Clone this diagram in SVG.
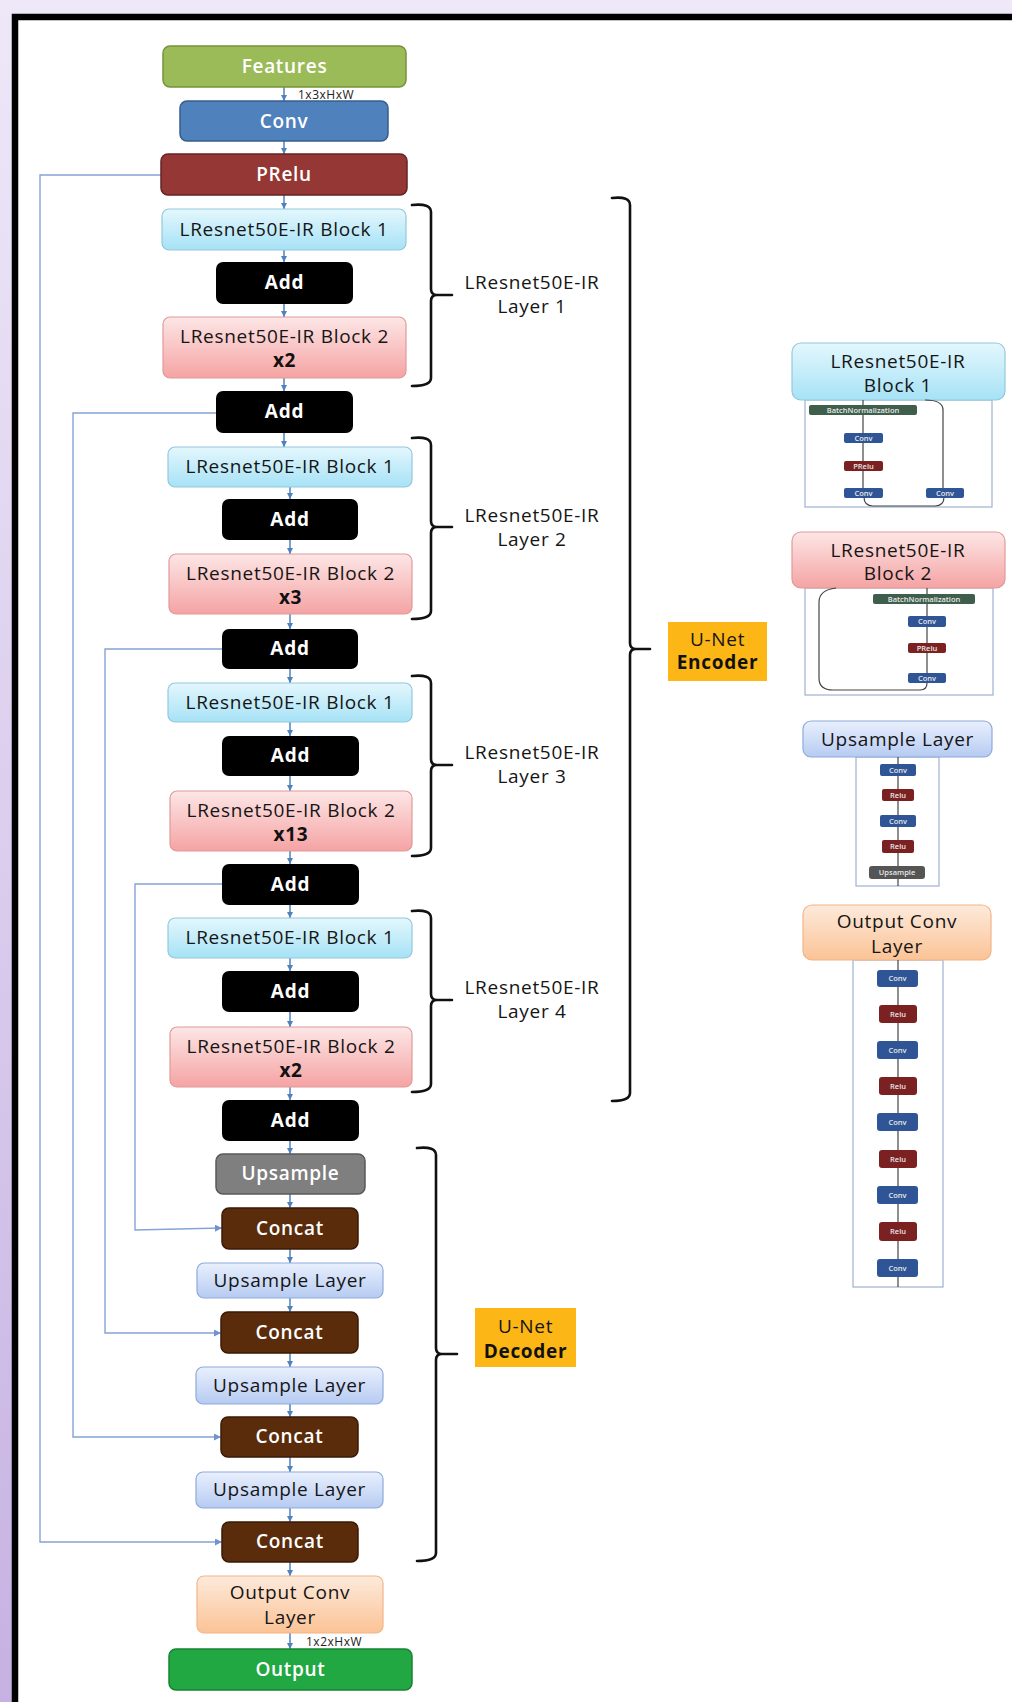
<svg xmlns="http://www.w3.org/2000/svg" width="1012" height="1702" viewBox="0 0 1012 1702">
<defs>
<linearGradient id="gBg" x1="0" y1="0" x2="0" y2="1"><stop offset="0" stop-color="#eee8f8"/><stop offset="1" stop-color="#c6b2e2"/></linearGradient>
<linearGradient id="gB1" x1="0" y1="0" x2="0" y2="1"><stop offset="0" stop-color="#e4f7fd"/><stop offset="1" stop-color="#a6e2f6"/></linearGradient>
<linearGradient id="gB2" x1="0" y1="0" x2="0" y2="1"><stop offset="0" stop-color="#fde6e6"/><stop offset="1" stop-color="#f5a3a3"/></linearGradient>
<linearGradient id="gUL" x1="0" y1="0" x2="0" y2="1"><stop offset="0" stop-color="#e9f0fd"/><stop offset="1" stop-color="#b6cbf2"/></linearGradient>
<linearGradient id="gOC" x1="0" y1="0" x2="0" y2="1"><stop offset="0" stop-color="#fdeadb"/><stop offset="1" stop-color="#fbc396"/></linearGradient>
<marker id="ah" viewBox="0 0 10 10" refX="10" refY="5" markerUnits="userSpaceOnUse" markerWidth="6" markerHeight="6" orient="auto"><path d="M0,0 L10,5 L0,10 z" fill="#4f81bd"/></marker>
<marker id="as" viewBox="0 0 10 10" refX="10" refY="5" markerUnits="userSpaceOnUse" markerWidth="7" markerHeight="7" orient="auto"><path d="M0,0 L10,5 L0,10 z" fill="#6f93cf"/></marker>
<style>
text{font-family:"Open Sans","Liberation Sans",sans-serif;text-anchor:middle}
.t{font-size:19px;letter-spacing:0.7px}
.w{fill:#fff;font-weight:600}
.wb{fill:#fff;font-weight:700}
.k{fill:#151515}
.kb{fill:#111;font-weight:700}
.sm{font-size:12px;letter-spacing:0.5px;fill:#222;text-anchor:start}
.b1{fill:url(#gB1);stroke:#93c8dc;stroke-width:1.2}
.b2{fill:url(#gB2);stroke:#df9a9a;stroke-width:1.2}
.add{fill:#000}
.cc{fill:#5a2c0b;stroke:#3a1a05;stroke-width:1.5}
.ul{fill:url(#gUL);stroke:#8eaadb;stroke-width:1.2}
.oc{fill:url(#gOC);stroke:#f2b58a;stroke-width:1.2}
.ar{stroke:#4f81bd;stroke-width:1.5;fill:none;marker-end:url(#ah)}
.sk{stroke:#86a3d6;stroke-width:1.4;fill:none}
.br{stroke:#111;stroke-width:2.6;fill:none;stroke-linecap:round}
.lab{fill:#fcb716}
.pn{fill:#fff;stroke:#a6b8d4;stroke-width:1.3}
.gl{stroke:#444;stroke-width:1.2;fill:none}
.sBN{fill:#3f5f4c}
.sCv{fill:#2f5597}
.sRe{fill:#7b2121}
.sUp{fill:#555}
.st{font-size:7.5px;fill:#e8e8e8;font-weight:600}
</style>
</defs>

<rect x="0" y="0" width="1012" height="1702" fill="url(#gBg)"/>
<rect x="15" y="17" width="997" height="1685" fill="#fff"/>
<path d="M15,1702 V17 H1012" stroke="#000" stroke-width="6.5" fill="none"/>

<g id="connectors">
<path class="ar" d="M284,87 V101"/>
<path class="ar" d="M284,141 V154"/>
<path class="ar" d="M284,195 V209"/>
<path class="ar" d="M284,250 V262"/>
<path class="ar" d="M284,304 V317"/>
<path class="ar" d="M284,378 V391"/>
<path class="ar" d="M284,433 V447"/>
<path class="ar" d="M290,487 V499"/>
<path class="ar" d="M290,540 V554"/>
<path class="ar" d="M290,614 V629"/>
<path class="ar" d="M290,669 V683"/>
<path class="ar" d="M290,722 V736"/>
<path class="ar" d="M290,776 V791"/>
<path class="ar" d="M290,851 V864"/>
<path class="ar" d="M290,905 V918"/>
<path class="ar" d="M290,958 V971"/>
<path class="ar" d="M290,1012 V1027"/>
<path class="ar" d="M290,1087 V1100"/>
<path class="ar" d="M290,1141 V1154"/>
<path class="ar" d="M290,1194 V1208"/>
<path class="ar" d="M290,1249 V1263"/>
<path class="ar" d="M290,1298 V1312"/>
<path class="ar" d="M290,1353 V1367"/>
<path class="ar" d="M290,1404 V1417"/>
<path class="ar" d="M290,1457 V1472"/>
<path class="ar" d="M290,1508 V1522"/>
<path class="ar" d="M290,1562 V1576"/>
<path class="ar" d="M290,1633 V1649"/>
<path class="sk" marker-end="url(#as)" d="M161,175 H40 V1542 H222"/>
<path class="sk" marker-end="url(#as)" d="M216,413 H73 V1437 H221"/>
<path class="sk" marker-end="url(#as)" d="M222,649 H105 V1333 H221"/>
<path class="sk" marker-end="url(#as)" d="M222,884 H135 V1230 L222,1228"/>
</g>

<g id="features"><rect x="163" y="46" width="243" height="41" rx="7" fill="#9bbb59" stroke="#77933c" stroke-width="1.5"/><text class="t w" x="284.5" y="73">Features</text></g>
<text class="sm" x="298" y="99">1x3xHxW</text>
<g id="conv"><rect x="180" y="101" width="208" height="40" rx="7" fill="#4f81bd" stroke="#385d8a" stroke-width="1.5"/><text class="t w" x="284" y="128">Conv</text></g>
<g id="prelu"><rect x="161" y="154" width="246" height="41" rx="7" fill="#953735" stroke="#632523" stroke-width="1.5"/><text class="t w" x="284" y="181">PRelu</text></g>

<g id="l1b1"><rect class="b1" x="162" y="209" width="244" height="41" rx="7"/><text class="t k" x="284" y="236">LResnet50E-IR Block 1</text></g>
<g id="l1add"><rect class="add" x="216" y="262" width="137" height="42" rx="7"/><text class="t wb" x="284.5" y="289">Add</text></g>
<g id="l1b2"><rect class="b2" x="163" y="317" width="243" height="61" rx="7"/><text class="t k" x="284.5" y="343">LResnet50E-IR Block 2</text><text class="t kb" x="284.5" y="367">x2</text></g>
<g id="add1"><rect class="add" x="216" y="391" width="137" height="42" rx="7"/><text class="t wb" x="284.5" y="418">Add</text></g>

<g id="l2b1"><rect class="b1" x="168" y="447" width="244" height="40" rx="7"/><text class="t k" x="290" y="473">LResnet50E-IR Block 1</text></g>
<g id="l2add"><rect class="add" x="222" y="499" width="136" height="41" rx="7"/><text class="t wb" x="290" y="526">Add</text></g>
<g id="l2b2"><rect class="b2" x="169" y="554" width="243" height="60" rx="7"/><text class="t k" x="290.5" y="580">LResnet50E-IR Block 2</text><text class="t kb" x="290.5" y="604">x3</text></g>
<g id="add2"><rect class="add" x="222" y="629" width="136" height="40" rx="7"/><text class="t wb" x="290" y="655">Add</text></g>

<g id="l3b1"><rect class="b1" x="168" y="683" width="244" height="39" rx="7"/><text class="t k" x="290" y="709">LResnet50E-IR Block 1</text></g>
<g id="l3add"><rect class="add" x="222" y="736" width="137" height="40" rx="7"/><text class="t wb" x="290.5" y="762">Add</text></g>
<g id="l3b2"><rect class="b2" x="170" y="791" width="242" height="60" rx="7"/><text class="t k" x="291" y="817">LResnet50E-IR Block 2</text><text class="t kb" x="291" y="841">x13</text></g>
<g id="add3"><rect class="add" x="222" y="864" width="137" height="41" rx="7"/><text class="t wb" x="290.5" y="891">Add</text></g>

<g id="l4b1"><rect class="b1" x="168" y="918" width="244" height="40" rx="7"/><text class="t k" x="290" y="944">LResnet50E-IR Block 1</text></g>
<g id="l4add"><rect class="add" x="222" y="971" width="137" height="41" rx="7"/><text class="t wb" x="290.5" y="998">Add</text></g>
<g id="l4b2"><rect class="b2" x="170" y="1027" width="242" height="60" rx="7"/><text class="t k" x="291" y="1053">LResnet50E-IR Block 2</text><text class="t kb" x="291" y="1077">x2</text></g>
<g id="add4"><rect class="add" x="222" y="1100" width="137" height="41" rx="7"/><text class="t wb" x="290.5" y="1127">Add</text></g>

<g id="upsample"><rect x="216" y="1154" width="149" height="40" rx="7" fill="#7f7f7f" stroke="#595959" stroke-width="1.5"/><text class="t w" x="290.5" y="1180">Upsample</text></g>
<g id="concat1"><rect class="cc" x="222" y="1208" width="136" height="41" rx="7"/><text class="t w" x="290" y="1235">Concat</text></g>
<g id="ul1"><rect class="ul" x="197" y="1263" width="186" height="35" rx="7"/><text class="t k" x="290" y="1287">Upsample Layer</text></g>
<g id="concat2"><rect class="cc" x="221" y="1312" width="137" height="41" rx="7"/><text class="t w" x="289.5" y="1339">Concat</text></g>
<g id="ul2"><rect class="ul" x="196" y="1367" width="187" height="37" rx="7"/><text class="t k" x="289.5" y="1392">Upsample Layer</text></g>
<g id="concat3"><rect class="cc" x="221" y="1417" width="137" height="40" rx="7"/><text class="t w" x="289.5" y="1443">Concat</text></g>
<g id="ul3"><rect class="ul" x="196" y="1472" width="187" height="36" rx="7"/><text class="t k" x="289.5" y="1496">Upsample Layer</text></g>
<g id="concat4"><rect class="cc" x="222" y="1522" width="136" height="40" rx="7"/><text class="t w" x="290" y="1548">Concat</text></g>
<g id="ocl"><rect class="oc" x="197" y="1576" width="186" height="57" rx="7"/><text class="t k" x="290" y="1599">Output Conv</text><text class="t k" x="290" y="1624">Layer</text></g>
<text class="sm" x="306" y="1646">1x2xHxW</text>
<g id="output"><rect x="169" y="1649" width="243" height="41" rx="7" fill="#21a843" stroke="#178232" stroke-width="1.5"/><text class="t w" x="290.5" y="1676">Output</text></g>

<g id="brace-layer1"><path class="br" d="M412,205 Q431,203 431,212 V289 Q431,295 437,295 H452 M437,295 Q431,295 431,301 V378 Q431,386 412,386"/><text class="t k" x="532" y="289">LResnet50E-IR</text><text class="t k" x="532" y="313">Layer 1</text></g>
<g id="brace-layer2"><path class="br" d="M412,438 Q431,436 431,445 V521 Q431,527 437,527 H452 M437,527 Q431,527 431,533 V611 Q431,619 412,619"/><text class="t k" x="532" y="522">LResnet50E-IR</text><text class="t k" x="532" y="546">Layer 2</text></g>
<g id="brace-layer3"><path class="br" d="M412,676 Q431,674 431,683 V759 Q431,765 437,765 H452 M437,765 Q431,765 431,771 V848 Q431,856 412,856"/><text class="t k" x="532" y="759">LResnet50E-IR</text><text class="t k" x="532" y="783">Layer 3</text></g>
<g id="brace-layer4"><path class="br" d="M412,911 Q431,909 431,918 V994 Q431,1000 437,1000 H452 M437,1000 Q431,1000 431,1006 V1084 Q431,1092 412,1092"/><text class="t k" x="532" y="994">LResnet50E-IR</text><text class="t k" x="532" y="1018">Layer 4</text></g>
<g id="brace-encoder"><path class="br" d="M612,198 Q630,196 630,205 V643 Q630,649 636,649 H650 M636,649 Q630,649 630,655 V1093 Q630,1101 612,1101"/></g>
<g id="encoder-label"><rect class="lab" x="668" y="622" width="99" height="59"/><text class="t k" x="717.5" y="646">U-Net</text><text class="t kb" x="717.5" y="669">Encoder</text></g>
<g id="brace-decoder"><path class="br" d="M417,1148 Q436,1146 436,1155 V1348 Q436,1354 442,1354 H457 M442,1354 Q436,1354 436,1360 V1553 Q436,1561 417,1561"/></g>
<g id="decoder-label"><rect class="lab" x="475" y="1308" width="101" height="59"/><text class="t k" x="525.5" y="1333">U-Net</text><text class="t kb" x="525.5" y="1358">Decoder</text></g>

<g id="detail-block1">
<rect class="pn" x="805" y="400" width="187" height="107"/>
<rect class="b1" x="792" y="343" width="213" height="57" rx="9"/>
<text class="t k" x="898" y="368">LResnet50E-IR</text><text class="t k" x="898" y="392">Block 1</text>
<path class="gl" d="M863,400 V405 M863,415 V433 M863,443 V461 M863,471 V488"/>
<path class="gl" d="M925,400 Q943,400 943,410 V488"/>
<path class="gl" d="M864,497 Q864,506 873,506 H935 Q944,506 944,497"/>
<rect class="sBN" x="809" y="405" width="108" height="10" rx="2"/><text class="st" x="863" y="412.5">BatchNormalization</text>
<rect class="sCv" x="844" y="433" width="39" height="10" rx="2"/><text class="st" x="863.5" y="440.5">Conv</text>
<rect class="sRe" x="844" y="461" width="39" height="10" rx="2"/><text class="st" x="863.5" y="468.5">PRelu</text>
<rect class="sCv" x="844" y="488" width="39" height="10" rx="2"/><text class="st" x="863.5" y="495.5">Conv</text>
<rect class="sCv" x="926" y="488" width="38" height="10" rx="2"/><text class="st" x="945" y="495.5">Conv</text>
</g>

<g id="detail-block2">
<rect class="pn" x="805" y="588" width="188" height="107"/>
<rect class="b2" x="792" y="532" width="213" height="56" rx="9"/>
<text class="t k" x="898" y="557">LResnet50E-IR</text><text class="t k" x="898" y="580">Block 2</text>
<path class="gl" d="M927,588 V594 M927,604 V616 M927,627 V643 M927,653 V673"/>
<path class="gl" d="M836,588 Q819,590 819,602 V678 Q819,690 833,690 H920 Q927,690 927,683"/>
<rect class="sBN" x="873" y="594" width="102" height="10" rx="2"/><text class="st" x="924" y="601.5">BatchNormalization</text>
<rect class="sCv" x="908" y="616" width="38" height="11" rx="2"/><text class="st" x="927" y="624">Conv</text>
<rect class="sRe" x="908" y="643" width="38" height="10" rx="2"/><text class="st" x="927" y="650.5">PRelu</text>
<rect class="sCv" x="908" y="673" width="38" height="10" rx="2"/><text class="st" x="927" y="680.5">Conv</text>
</g>

<g id="detail-upsample">
<rect class="pn" x="856" y="757" width="83" height="129"/>
<rect class="ul" x="803" y="721" width="189" height="36" rx="8"/>
<text class="t k" x="897.5" y="746">Upsample Layer</text>
<path class="gl" d="M898,757 V886"/>
<rect class="sCv" x="880" y="764" width="36" height="12" rx="2"/><text class="st" x="898" y="772.5">Conv</text>
<rect class="sRe" x="882" y="789" width="32" height="12" rx="2"/><text class="st" x="898" y="797.5">Relu</text>
<rect class="sCv" x="880" y="815" width="36" height="12" rx="2"/><text class="st" x="898" y="823.5">Conv</text>
<rect class="sRe" x="882" y="840" width="32" height="13" rx="2"/><text class="st" x="898" y="849">Relu</text>
<rect class="sUp" x="869" y="866" width="56" height="13" rx="3"/><text class="st" x="897" y="875">Upsample</text>
</g>

<g id="detail-outconv">
<rect class="pn" x="853" y="960" width="90" height="327"/>
<rect class="oc" x="803" y="905" width="188" height="55" rx="9"/>
<text class="t k" x="897" y="928">Output Conv</text><text class="t k" x="897" y="953">Layer</text>
<path class="gl" d="M898,960 V1287"/>
<rect class="sCv" x="877" y="970" width="41" height="17" rx="3"/><text class="st" x="897.5" y="981">Conv</text>
<rect class="sRe" x="879" y="1005" width="38" height="18" rx="3"/><text class="st" x="898" y="1016.5">Relu</text>
<rect class="sCv" x="877" y="1041" width="41" height="18" rx="3"/><text class="st" x="897.5" y="1052.5">Conv</text>
<rect class="sRe" x="879" y="1077" width="38" height="18" rx="3"/><text class="st" x="898" y="1088.5">Relu</text>
<rect class="sCv" x="877" y="1113" width="41" height="18" rx="3"/><text class="st" x="897.5" y="1124.5">Conv</text>
<rect class="sRe" x="879" y="1150" width="38" height="18" rx="3"/><text class="st" x="898" y="1161.5">Relu</text>
<rect class="sCv" x="877" y="1186" width="41" height="18" rx="3"/><text class="st" x="897.5" y="1197.5">Conv</text>
<rect class="sRe" x="879" y="1222" width="38" height="19" rx="3"/><text class="st" x="898" y="1234">Relu</text>
<rect class="sCv" x="877" y="1259" width="41" height="18" rx="3"/><text class="st" x="897.5" y="1270.5">Conv</text>
</g>
</svg>
